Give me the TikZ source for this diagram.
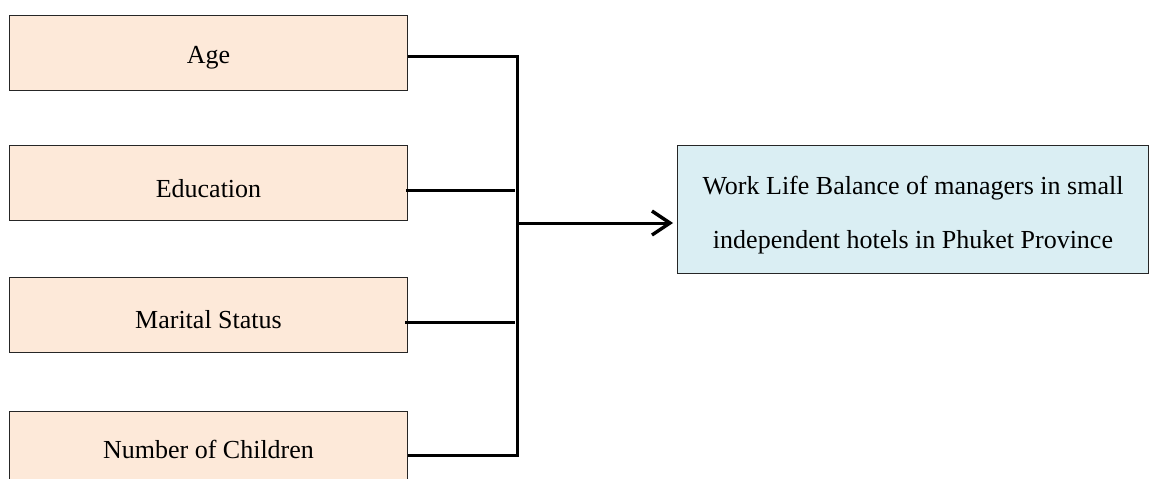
\documentclass[tikz,border=0pt]{standalone}
\usepackage{fontspec}
\setmainfont{Liberation Serif}
\usetikzlibrary{arrows.meta}
\definecolor{peach}{HTML}{FDE9D9}
\definecolor{paleblue}{HTML}{DAEEF3}
\tikzset{
  factor/.style={draw=black!85, line width=1pt, fill=peach, inner sep=0pt,
    minimum width=398pt, anchor=north west, font=\fontsize{26}{30}\selectfont},
  outcomebox/.style={draw=black!85, line width=1pt, fill=paleblue, inner sep=0pt,
    minimum width=471pt, minimum height=128pt, anchor=north west, align=center,
    font=\fontsize{26}{54}\selectfont},
  conn/.style={line width=3pt, line join=miter},
}
\begin{document}
\begin{tikzpicture}[x=1pt, y=-1pt]
\useasboundingbox (0,0) rectangle (1149,479);
\node[factor, text height=48pt, text depth=27pt] (age) at (9,15) {Age};
\node[factor, text height=52pt, text depth=23pt] (education) at (9,145) {Education};
\node[factor, text height=51pt, text depth=24pt] (marital) at (9,277) {Marital Status};
\node[factor, text height=47pt, text depth=28pt] (children) at (9,411) {Number of Children};
\node[outcomebox] (outcome) at (677,145) {\rule{0pt}{29pt}Work Life Balance of managers in small\\independent hotels in Phuket Province};
\coordinate (bustop) at (517,56);
\coordinate (busbottom) at (517,455);
\coordinate (join) at (517,223);
\coordinate (eduend) at (515,190);
\coordinate (marend) at (515,322);
\draw[conn] (age.east |- bustop) -- (bustop) -- (busbottom) -- (children.east |- busbottom);
\draw[conn] ([xshift=-2pt]education.east |- eduend) -- (eduend);
\draw[conn] ([xshift=-3pt]marital.east |- marend) -- (marend);
\draw[conn, -{Straight Barb[length=18pt, width=24pt, line width=3.4pt]}, shorten >=4pt] (join) -- (join -| outcome.west);
\end{tikzpicture}
\end{document}
